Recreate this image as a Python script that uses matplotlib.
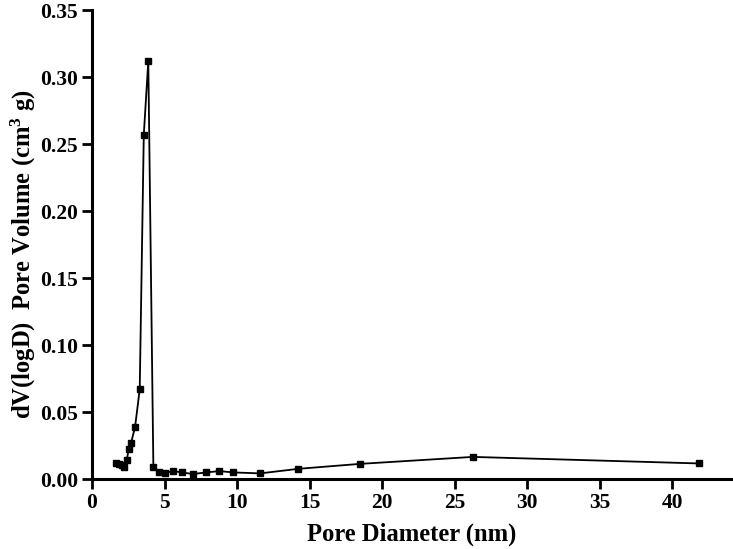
import matplotlib
matplotlib.use("Agg")
import matplotlib.pyplot as plt

# pore size distribution
pore_diameter = [1.66, 1.88, 2.05, 2.23, 2.41, 2.53, 2.69, 2.97, 3.29, 3.57, 3.88,
                 4.23, 4.60, 5.06, 5.57, 6.23, 6.95, 7.86, 8.78, 9.74, 11.59,
                 14.23, 18.48, 26.25, 41.86]
pore_volume = [0.0123, 0.0111, 0.0103, 0.0091, 0.0145, 0.0227, 0.0268, 0.039, 0.067, 0.257, 0.312,
               0.0091, 0.0054, 0.0047, 0.0059, 0.0049, 0.0037, 0.0049, 0.0059, 0.0049, 0.0042,
               0.0076, 0.0113, 0.0165, 0.0116]
x_ticks = [0, 5, 10, 15, 20, 25, 30, 35, 40]
y_ticks = [0.00, 0.05, 0.10, 0.15, 0.20, 0.25, 0.30, 0.35]

plt.rcParams['font.family'] = ['Liberation Serif', 'DejaVu Serif']
plt.rcParams['font.weight'] = 'bold'
plt.rcParams['mathtext.fontset'] = 'custom'
plt.rcParams['mathtext.rm'] = 'Liberation Serif:bold'
plt.rcParams['mathtext.bf'] = 'Liberation Serif:bold'
plt.rcParams['mathtext.it'] = 'Liberation Serif:bold'

fig = plt.figure(figsize=(7.33, 5.49), dpi=100)
ax = fig.add_axes([0.1255, 0.1275, 0.873, 0.854])

ax.plot(pore_diameter, pore_volume, color='black', linewidth=1.3,
        marker='s', markersize=5, markerfacecolor='black', markeredgecolor='black')

ax.set_xlim(0, 44.1)
ax.set_ylim(0, 0.35)
ax.set_xticks(x_ticks)
ax.set_yticks(y_ticks)
ax.set_yticklabels([f"{v:.2f}" for v in y_ticks])

for side in ['top', 'right']:
    ax.spines[side].set_visible(False)
for side in ['left', 'bottom']:
    ax.spines[side].set_linewidth(2.2)

ax.tick_params(axis='both', direction='out', length=7, width=2, labelsize=15.5, pad=3)
for lbl in ax.get_xticklabels() + ax.get_yticklabels():
    lbl.set_fontweight('bold')

ax.set_xlabel("Pore Diameter (nm)", fontsize=17.7, fontweight='bold', labelpad=7)
ax.set_ylabel("dV(logD)  Pore Volume (cm$^\\mathbf{3}$ g)", fontsize=17.7, fontweight='bold')
ax.yaxis.set_label_coords(-0.085, 0.48)

fig.savefig("out.png", dpi=100)
